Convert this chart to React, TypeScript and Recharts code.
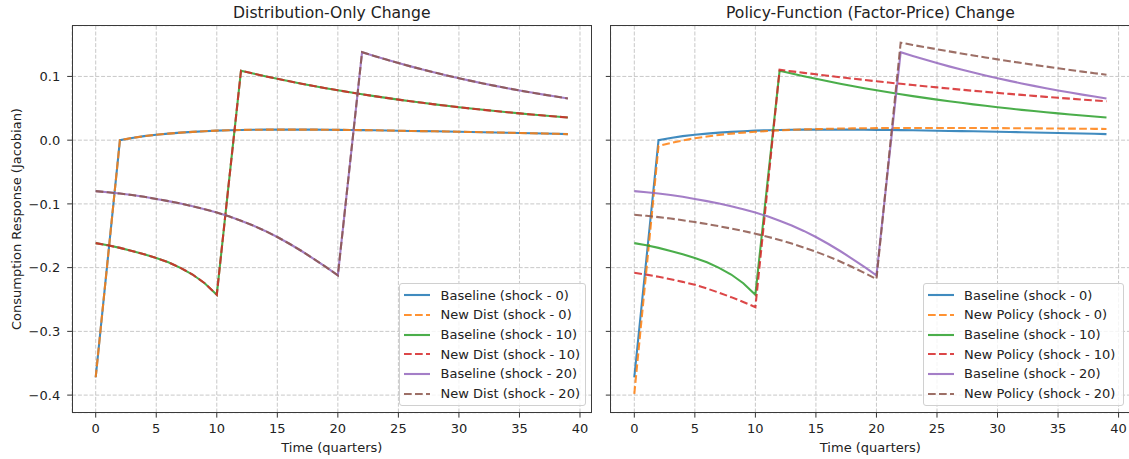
import { CartesianGrid, Line, LineChart, XAxis, YAxis } from "recharts";

const TIME = [
  0, 1, 2, 3, 4, 5, 6, 7, 8, 9, 10, 11, 12, 13, 14, 15, 16, 17, 18, 19,
  20, 21, 22, 23, 24, 25, 26, 27, 28, 29, 30, 31, 32, 33, 34, 35, 36, 37, 38, 39,
];

const X_TICKS = [0, 5, 10, 15, 20, 25, 30, 35, 40];
const Y_TICKS = [-0.4, -0.3, -0.2, -0.1, 0, 0.1];

// baseline jacobian columns
const base0 = [
  -0.372, -0.186, 0.0, 0.0035, 0.0063, 0.0085, 0.0103, 0.0118, 0.013, 0.0141,
  0.015, 0.0156, 0.016, 0.0163, 0.0165, 0.0166, 0.0166, 0.0166, 0.0165, 0.0164,
  0.0162, 0.016, 0.0158, 0.0155, 0.0152, 0.0148, 0.0145, 0.0142, 0.0139, 0.0136,
  0.0132, 0.0129, 0.0125, 0.0121, 0.0117, 0.0113, 0.0109, 0.0105, 0.01, 0.0095,
];
const base10 = [
  -0.1615, -0.165, -0.169, -0.1738, -0.179, -0.1848, -0.1915, -0.2003, -0.2108, -0.2245,
  -0.2425, -0.066, 0.109, 0.1046, 0.1003, 0.0963, 0.0924, 0.0886, 0.085, 0.0816,
  0.0783, 0.0751, 0.072, 0.0691, 0.0663, 0.0636, 0.061, 0.0586, 0.0562, 0.0539,
  0.0517, 0.0496, 0.0476, 0.0457, 0.0438, 0.042, 0.0403, 0.0387, 0.0371, 0.0356,
];
const base20 = [
  -0.08, -0.0818, -0.0838, -0.0861, -0.0889, -0.0922, -0.0956, -0.0994, -0.1036, -0.1083,
  -0.1135, -0.1195, -0.1263, -0.1339, -0.1424, -0.152, -0.1625, -0.1739, -0.1861, -0.1989,
  -0.212, -0.037, 0.138, 0.1321, 0.1264, 0.121, 0.1158, 0.1108, 0.1061, 0.1015,
  0.0972, 0.093, 0.089, 0.0852, 0.0815, 0.078, 0.0747, 0.0715, 0.0684, 0.0655,
];

// distribution-only change lies on top of the baseline
const dist0 = base0;
const dist10 = base10;
const dist20 = base20;

// policy-function change
const policy0 = [
  -0.398, -0.2035, -0.009, -0.0045, -0.0005, 0.003, 0.0058, 0.0082, 0.0102, 0.0118,
  0.0132, 0.0144, 0.0154, 0.0162, 0.0169, 0.0174, 0.0178, 0.0182, 0.0185, 0.0187,
  0.0189, 0.019, 0.0191, 0.0192, 0.0192, 0.0192, 0.0192, 0.0191, 0.019, 0.019,
  0.0189, 0.0188, 0.0187, 0.0186, 0.0184, 0.0183, 0.0181, 0.018, 0.0178, 0.0176,
];
const policy10 = [
  -0.208, -0.211, -0.2144, -0.2181, -0.2223, -0.227, -0.2328, -0.2393, -0.2463, -0.2538,
  -0.262, -0.0758, 0.1105, 0.108, 0.1056, 0.1033, 0.101, 0.0988, 0.0966, 0.0945,
  0.0924, 0.0904, 0.0884, 0.0865, 0.0846, 0.0828, 0.081, 0.0792, 0.0775, 0.0758,
  0.0742, 0.0726, 0.071, 0.0695, 0.068, 0.0665, 0.0651, 0.0637, 0.0624, 0.0611,
];
const policy20 = [
  -0.117, -0.1187, -0.1207, -0.123, -0.1256, -0.1285, -0.1316, -0.135, -0.1386, -0.1425,
  -0.1467, -0.1514, -0.1566, -0.1623, -0.1684, -0.175, -0.1823, -0.1903, -0.199, -0.2083,
  -0.218, -0.0325, 0.153, 0.1494, 0.146, 0.1426, 0.1393, 0.1361, 0.1329, 0.1298,
  0.1268, 0.1239, 0.121, 0.1182, 0.1155, 0.1128, 0.1102, 0.1076, 0.1051, 0.1027,
];

const rows = TIME.map((t, i) => ({
  t,
  b0: base0[i],
  b10: base10[i],
  b20: base20[i],
  d0: dist0[i],
  d10: dist10[i],
  d20: dist20[i],
  p0: policy0[i],
  p10: policy10[i],
  p20: policy20[i],
}));

type Series = { key: string; label: string; color: string; dashed: boolean };

const LEFT_SERIES: Series[] = [
  { key: "b0", label: "Baseline (shock - 0)", color: "#1f77b4", dashed: false },
  { key: "d0", label: "New Dist (shock - 0)", color: "#ff7f0e", dashed: true },
  { key: "b10", label: "Baseline (shock - 10)", color: "#2ca02c", dashed: false },
  { key: "d10", label: "New Dist (shock - 10)", color: "#d62728", dashed: true },
  { key: "b20", label: "Baseline (shock - 20)", color: "#9467bd", dashed: false },
  { key: "d20", label: "New Dist (shock - 20)", color: "#8c564b", dashed: true },
];

const RIGHT_SERIES: Series[] = [
  { key: "b0", label: "Baseline (shock - 0)", color: "#1f77b4", dashed: false },
  { key: "p0", label: "New Policy (shock - 0)", color: "#ff7f0e", dashed: true },
  { key: "b10", label: "Baseline (shock - 10)", color: "#2ca02c", dashed: false },
  { key: "p10", label: "New Policy (shock - 10)", color: "#d62728", dashed: true },
  { key: "b20", label: "Baseline (shock - 20)", color: "#9467bd", dashed: false },
  { key: "p20", label: "New Policy (shock - 20)", color: "#8c564b", dashed: true },
];

const FONT = "'DejaVu Sans', sans-serif";
const DASH = "7.7 3.3";
const LINE_ALPHA = 0.85;
const TOP = 25.7;
const BOTTOM = 412.7;
const PLOT_W = 519.4;

const fmtY = (v: number) => (v === 0 ? "0.0" : v.toFixed(1).replace("-", "\u2212"));

function Panel({
  series,
  left,
  yWidth,
  showY,
}: {
  series: Series[];
  left: number;
  yWidth: number;
  showY: boolean;
}) {
  return (
    <div style={{ position: "absolute", left, top: 0 }}>
      <LineChart
        width={yWidth + PLOT_W}
        height={459}
        data={rows}
        margin={{ top: TOP, right: 0, bottom: 459 - BOTTOM - 30, left: 0 }}
      >
        <CartesianGrid stroke="#c8c8c8" strokeDasharray="4 1.8" />
        <XAxis
          dataKey="t"
          type="number"
          domain={[-1.95, 40.95]}
          ticks={X_TICKS}
          allowDataOverflow
          height={30}
          axisLine={false}
          tickSize={4.9}
          tickMargin={6}
          tickLine={{ stroke: "#333" }}
          tick={{ fill: "#222", fontSize: 13, fontFamily: FONT }}
        />
        <YAxis
          type="number"
          domain={[-0.4276, 0.1796]}
          ticks={Y_TICKS}
          allowDataOverflow
          interval={0}
          width={yWidth}
          axisLine={false}
          tickSize={4.9}
          tickMargin={7}
          tickLine={{ stroke: "#333" }}
          tickFormatter={showY ? fmtY : () => ""}
          tick={{ fill: "#222", fontSize: 13, fontFamily: FONT }}
        />
        {series.map((s) => (
          <Line
            key={s.key}
            dataKey={s.key}
            type="linear"
            stroke={s.color}
            strokeOpacity={LINE_ALPHA}
            strokeWidth={2.1}
            strokeDasharray={s.dashed ? DASH : undefined}
            dot={false}
            activeDot={false}
            isAnimationActive={false}
          />
        ))}
      </LineChart>
      <div
        style={{
          position: "absolute",
          left: yWidth - 0.5,
          top: TOP - 0.5,
          width: PLOT_W + 1,
          height: BOTTOM - TOP + 1,
          border: "1px solid #3a3a3a",
          boxSizing: "border-box",
          pointerEvents: "none",
        }}
      />
    </div>
  );
}

function LegendBox({ series, left, width }: { series: Series[]; left: number; width: number }) {
  return (
    <div
      style={{
        position: "absolute",
        left,
        top: 283.3,
        width,
        height: 122.7,
        boxSizing: "border-box",
        border: "1px solid #d0d0d0",
        borderRadius: 3,
        background: "rgba(255,255,255,0.8)",
        padding: "1px 0 0 4.2px",
        fontFamily: FONT,
        fontSize: 13,
        color: "#222",
      }}
    >
      {series.map((s) => (
        <div key={s.key} style={{ height: 19.7, display: "flex", alignItems: "center", whiteSpace: "nowrap" }}>
          <svg width={26} height={6} style={{ marginRight: 10.4, flex: "none" }}>
            <line
              x1={0}
              y1={3}
              x2={26}
              y2={3}
              stroke={s.color}
              strokeOpacity={LINE_ALPHA}
              strokeWidth={2.1}
              strokeDasharray={s.dashed ? DASH : undefined}
            />
          </svg>
          <span>{s.label}</span>
        </div>
      ))}
    </div>
  );
}

const textBase = { position: "absolute" as const, fontFamily: FONT, color: "#222", whiteSpace: "nowrap" as const };

export default function App() {
  return (
    <div style={{ position: "absolute", left: 0, top: 0, width: 1129, height: 459, overflow: "hidden", background: "#fff" }}>
      <Panel series={LEFT_SERIES} left={0} yWidth={72.1} showY />
      <Panel series={RIGHT_SERIES} left={600} yWidth={10.7} showY={false} />

      <div style={{ ...textBase, left: 72.1, width: PLOT_W, top: 3, lineHeight: "20px", fontSize: 15.6, textAlign: "center" }}>
        Distribution-Only Change
      </div>
      <div style={{ ...textBase, left: 610.7, width: PLOT_W, top: 3, lineHeight: "20px", fontSize: 15.6, textAlign: "center" }}>
        Policy-Function (Factor-Price) Change
      </div>

      <div style={{ ...textBase, left: 72.1, width: PLOT_W, top: 438, lineHeight: "20px", fontSize: 13, textAlign: "center" }}>
        Time (quarters)
      </div>
      <div style={{ ...textBase, left: 610.7, width: PLOT_W, top: 438, lineHeight: "20px", fontSize: 13, textAlign: "center" }}>
        Time (quarters)
      </div>

      <div
        style={{
          ...textBase,
          left: 17 - 150,
          top: 219 - 10,
          width: 300,
          lineHeight: "20px",
          fontSize: 13,
          textAlign: "center",
          transform: "rotate(-90deg)",
        }}
      >
        Consumption Response (Jacobian)
      </div>

      <LegendBox series={LEFT_SERIES} left={399} width={186.5} />
      <LegendBox series={RIGHT_SERIES} left={922.5} width={201} />
    </div>
  );
}
